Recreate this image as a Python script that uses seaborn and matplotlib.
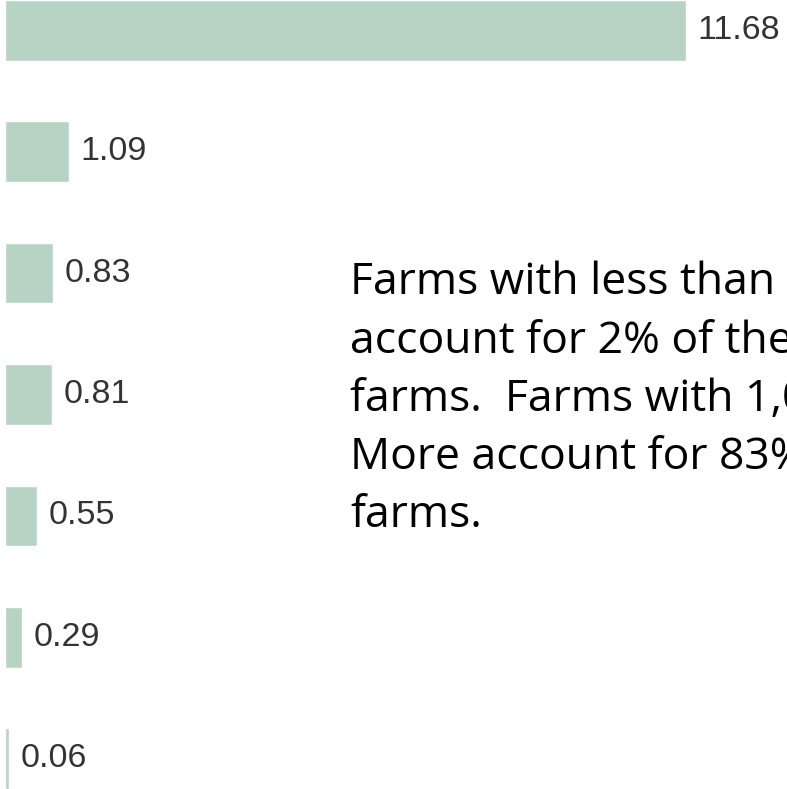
import matplotlib
matplotlib.use("Agg")
import matplotlib.pyplot as plt
import seaborn as sns
import pandas as pd

# values (share, %) per farm-size group, top to bottom
groups = ["g1", "g2", "g3", "g4", "g5", "g6", "g7"]
values = [11.68, 1.09, 0.83, 0.81, 0.55, 0.29, 0.06]

note_lines = [
    "Farms with less than",
    "account for 2% of the",
    "farms.  Farms with 1,0",
    "More account for 83%",
    "farms.",
]

df = pd.DataFrame({"group": groups, "value": values})

sns.set_theme(style="white")
plt.rcParams["font.family"] = ["Liberation Sans", "DejaVu Sans"]

fig = plt.figure(figsize=(7.87, 7.89), dpi=100)
ax = fig.add_axes([0, 0, 1, 1])

sns.barplot(data=df, x="value", y="group", orient="h", color="#b7d3c4",
            saturation=1, width=0.5, ax=ax)

for i, v in enumerate(values):
    ax.text(v + 0.2, i, f"{v:.2f}", va="center", ha="left",
            fontsize=24.5, color="#333333")

ax.set_xlim(-0.086, 13.41)
ax.set_ylim(6.25, -0.25)
ax.set_axis_off()

# note runs off the right edge, as in the source image
fig.text(350 / 787, 1 - 261 / 789, "\n".join(note_lines), ha="left", va="top",
         fontsize=32, family=["Open Sans", "DejaVu Sans"], color="black",
         linespacing=1.41)

fig.savefig("out.png", dpi=100)
